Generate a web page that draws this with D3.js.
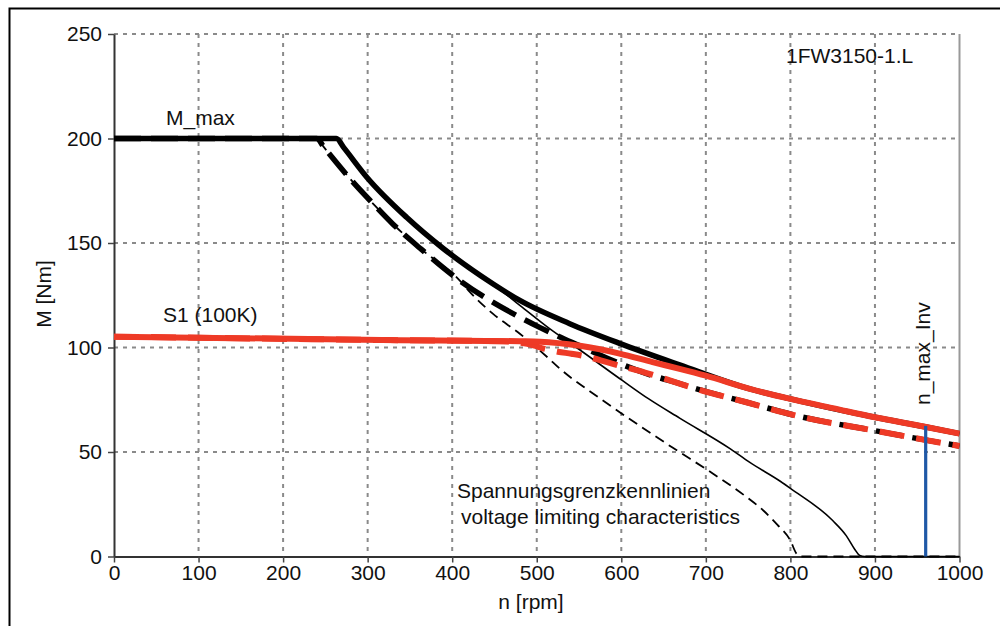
<!DOCTYPE html>
<html>
<head>
<meta charset="utf-8">
<script src="https://cdn.jsdelivr.net/npm/d3@7"></script>
<style>
  html, body { margin: 0; padding: 0; background: #fff; }
  svg { display: block; }
  text { font-family: "Liberation Sans", Arial, Helvetica, sans-serif; fill: #111; }
</style>
</head>
<body>
<script>
// ---------- data (n [rpm], M [Nm]) ----------
const xTicks = [0, 100, 200, 300, 400, 500, 600, 700, 800, 900, 1000];
const yTicks = [0, 50, 100, 150, 200, 250];

// M_max (thick black solid)
const mMax = [[0,200],[263,200],[272,195.5],[299,181.5],[346,162.3],[389,147.5],[448,130.5],[480,122.5],[539,111.4],[598,102],[669,91.7],[752,80.2],[800,75.4],[900,66.6],[959,62.1],[1000,58.8]];
// S1 (100K) (red solid)
const s1 = [[0,105.2],[338,103.5],[480,103],[504,102.8],[551,100.8],[598,97.1],[637,93],[669,89.8],[700,86.5],[752,80.2],[800,75.4],[850,71],[900,66.6],[959,62.1],[1000,58.8]];
// M_max at reduced voltage (thick black dashed)
const mMaxRed = [[0,200],[240,200],[248,196],[256,192],[283,179],[306,169],[330,159],[362,147.5],[409,132],[441,123.4],[472,116.2],[504,109.5],[530,104.5],[555,100],[580,95.5],[600,92],[630,87.5],[669,82.7],[689,80.2],[748,73.8],[811,67],[900,60.2],[959,55.8],[1000,52.9]];
// S1 at reduced voltage (red dashed)
const s1Red = [[0,105.2],[338,103.5],[460,103],[476,102.5],[496,101],[508,99.5],[525,98],[541,97],[555,96],[583,93],[598,91.3],[628,88],[646,85.8],[669,82.7],[689,80.2],[748,73.8],[811,67],[900,60.2],[959,55.8],[1000,52.9]];
// voltage limiting characteristic (thin solid)
const vLimit = [[0,200],[263,200],[272,195.5],[299,181.5],[346,162.3],[389,147.5],[448,130.3],[480,120.2],[516,108.8],[547,100],[602,84],[632,75.5],[669,66.2],[729,51.5],[752,45],[788,36],[800,32.6],[850,17.2],[866,10],[876,3.5],[882,0.5],[888,0],[1000,0]];
// voltage limiting characteristic, reduced (thin dashed)
const vLimitRed = [[0,200],[240,200],[248,196],[256,192],[283,179],[306,169],[330,159],[362,147.5],[409,132],[421,126.5],[448,116.2],[480,106.6],[513,95.2],[527,90],[575,75.6],[620,63],[661,52],[709,39.5],[748,28.5],[768,22],[785,15],[800,7.6],[807,1.5],[812,0],[1000,0]];
// n_max_Inv marker
const nMaxInv = [[960,0],[960,62.5]];

// ---------- layout ----------
const W = 1000, H = 626;
const FS = 21;
const svg = d3.select("body").append("svg").attr("width", W).attr("height", H);
svg.append("rect").attr("width", W).attr("height", H).attr("fill", "#fff");

// outer frame (extends beyond the picture on right and bottom)
svg.append("rect").attr("x", 9.5).attr("y", 8.5).attr("width", 1100).attr("height", 800)
  .attr("fill", "none").attr("stroke", "#000").attr("stroke-width", 2);

const x = d3.scaleLinear().domain([0, 1000]).range([114, 959.5]);
const y = d3.scaleLinear().domain([0, 250]).range([556.5, 34]);

const gridColor = "#8a8a8a";
svg.append("g").selectAll("line").data(xTicks.filter(d => d > 0 && d < 1000)).join("line")
  .attr("x1", d => x(d)).attr("x2", d => x(d)).attr("y1", y(250)).attr("y2", y(0))
  .attr("stroke", gridColor).attr("stroke-width", 2).attr("stroke-dasharray", "4,5");
svg.append("g").selectAll("line").data(yTicks.filter(d => d > 0)).join("line")
  .attr("x1", x(0)).attr("x2", x(1000)).attr("y1", d => y(d)).attr("y2", d => y(d))
  .attr("stroke", gridColor).attr("stroke-width", 2).attr("stroke-dasharray", "4,5");
svg.append("line").attr("x1", x(1000)).attr("x2", x(1000)).attr("y1", y(250)).attr("y2", y(0))
  .attr("stroke", "#999").attr("stroke-width", 2);

// axes
const yAxis = d3.axisLeft(y).tickValues(yTicks).tickFormat(d3.format("d")).tickSize(6).tickSizeOuter(0).tickPadding(6);
const xAxis = d3.axisBottom(x).tickValues(xTicks).tickFormat(d3.format("d")).tickSize(6).tickSizeOuter(0).tickPadding(3);
const gy = svg.append("g").attr("transform", `translate(${x(0)},0)`).call(yAxis);
const gx = svg.append("g").attr("transform", `translate(0,${y(0)})`).call(xAxis);
[gx, gy].forEach(g => {
  g.select(".domain").attr("stroke", "#333").attr("stroke-width", 2);
  g.selectAll(".tick line").attr("stroke", "#444").attr("stroke-width", 1.5);
  g.selectAll(".tick text").attr("font-size", FS).attr("fill", "#111")
    .attr("font-family", '"Liberation Sans", Arial, sans-serif');
});

// ---------- curves ----------
const line = d3.line().x(d => x(d[0])).y(d => y(d[1])).curve(d3.curveMonotoneX);
const red = "#ee3a26";

function draw(data, color, width, dash, offset) {
  const p = svg.append("path").datum(data).attr("d", line)
    .attr("fill", "none").attr("stroke", color).attr("stroke-width", width)
    .attr("stroke-linejoin", "round");
  if (dash) p.attr("stroke-dasharray", dash);
  if (offset) p.attr("stroke-dashoffset", offset);
  return p;
}

draw(vLimitRed, "#000", 1.8, "10,6");
draw(vLimit, "#000", 1.6);
draw(mMaxRed, "#000", 5.5, "27,10");
draw(mMax, "#000", 5.5);
draw(s1Red, red, 6, "25,12");
draw(s1, red, 6);

svg.append("path").datum(nMaxInv).attr("d", d3.line().x(d => x(d[0])).y(d => y(d[1])))
  .attr("stroke", "#1f58a6").attr("stroke-width", 3.2).attr("fill", "none");

// ---------- texts ----------
function label(txt, px, py, opts = {}) {
  const t = svg.append("text").attr("x", px).attr("y", py).attr("font-size", opts.size || FS)
    .attr("text-anchor", opts.anchor || "start").text(txt);
  if (opts.rotate) t.attr("transform", `rotate(${opts.rotate},${px},${py})`);
  return t;
}
label("M_max", 166, 125);
label("S1 (100K)", 163, 321.5);
label("1FW3150-1.L", 786, 62.5);
label("Spannungsgrenzkennlinien", 457, 498);
label("voltage limiting characteristics", 461, 523.5);
label("n [rpm]", 531, 609, { anchor: "middle" });
label("M [Nm]", 51, 294, { anchor: "middle", rotate: -90 });
label("n_max_Inv", 930, 405, { rotate: -90 });
</script>
</body>
</html>
